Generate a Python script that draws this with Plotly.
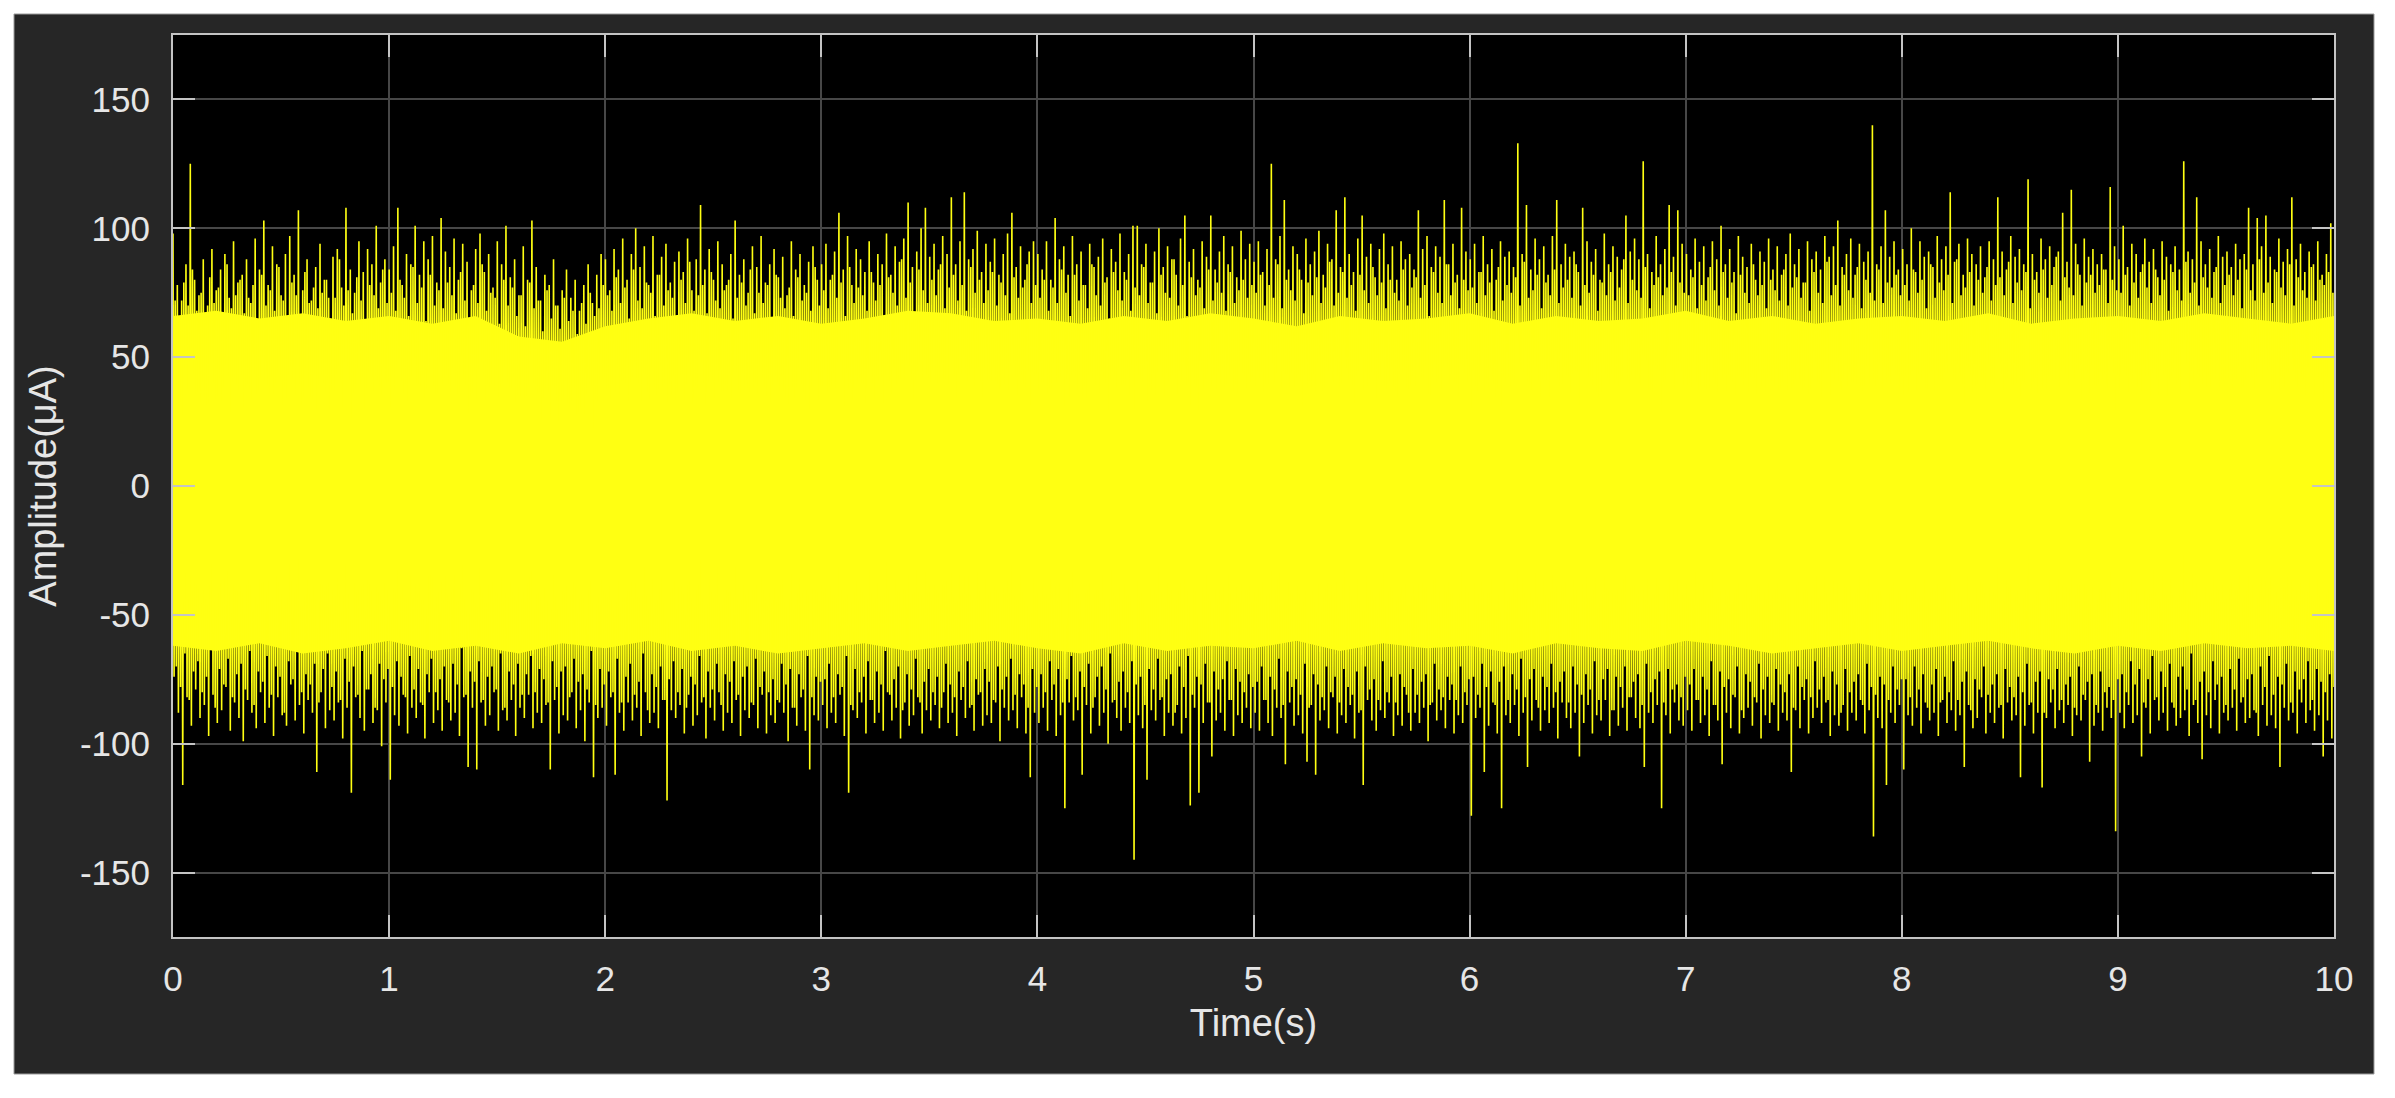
import numpy as np
import plotly.graph_objects as go

# upper peaks of the trace, one per 0.02 s (row = 1 s)
peak_hi = [
    98, 78, 72, 86, 125, 80, 74, 88, 70, 92, 76, 84, 90, 73, 95, 79, 82, 88, 71, 96, 84, 103, 78, 93, 86,
    74, 90, 97, 82, 107, 76, 88, 72, 85, 94, 80, 73, 89, 92, 77, 108, 84, 75, 95, 83, 92, 86, 101, 79, 88,
    84, 93, 108, 78, 90, 86, 101, 82, 95, 88, 97, 79, 104, 91, 85, 96, 80, 94, 87, 76, 92, 98, 83, 90, 77,
    95, 86, 101, 81, 88, 74, 93, 80, 103, 85, 72, 82, 78, 88, 70, 76, 84, 73, 80, 68, 78, 86, 71, 82, 90,
    88, 76, 92, 84, 96, 80, 90, 100, 85, 93, 78, 97, 82, 89, 94, 79, 87, 91, 83, 96, 76, 88, 109, 84, 92,
    80, 95, 86, 78, 90, 103, 82, 88, 75, 93, 85, 97, 79, 86, 92, 81, 89, 74, 95, 84, 90, 78, 87, 93, 80,
    86, 94, 80, 91, 106, 84, 97, 78, 92, 88, 83, 95, 79, 90, 86, 98, 82, 93, 87, 96, 110, 85, 91, 100, 108,
    89, 94, 84, 97, 90, 112, 86, 95, 114, 88, 92, 99, 83, 94, 87, 96, 82, 90, 98, 106, 85, 93, 80, 91, 95,
    90, 84, 95, 80, 104, 88, 93, 82, 97, 86, 91, 78, 94, 85, 89, 96, 81, 92, 87, 98, 83, 90, 101, 101, 86,
    94, 79, 91, 100, 85, 93, 88, 82, 96, 105, 87, 92, 80, 95, 89, 105, 84, 91, 97, 86, 93, 81, 99, 88, 94,
    87, 95, 83, 92, 125, 88, 97, 111, 84, 93, 90, 80, 96, 86, 91, 99, 82, 94, 88, 107, 85, 112, 90, 83, 96,
    105, 89, 94, 81, 92, 98, 86, 93, 80, 95, 88, 90, 84, 107, 92, 97, 85, 93, 89, 111, 86, 94, 82, 108, 91,
    88, 94, 83, 97, 86, 92, 80, 95, 89, 91, 85, 133, 90, 109, 84, 96, 88, 93, 82, 97, 111, 86, 94, 89, 91,
    83, 108, 95, 87, 92, 80, 98, 86, 93, 89, 84, 105, 91, 96, 88, 126, 90, 83, 97, 86, 92, 109, 89, 107, 94,
    90, 84, 96, 87, 93, 81, 95, 88, 101, 86, 92, 83, 97, 89, 85, 94, 80, 91, 87, 96, 84, 93, 82, 90, 98,
    86, 92, 79, 95, 88, 91, 84, 97, 89, 93, 103, 85, 90, 96, 82, 94, 87, 91, 140, 86, 93, 107, 89, 95, 84,
    92, 86, 100, 83, 95, 89, 91, 85, 97, 88, 93, 114, 87, 94, 82, 96, 90, 86, 93, 81, 95, 88, 112, 91, 84,
    97, 89, 92, 86, 119, 90, 83, 96, 88, 93, 85, 91, 106, 87, 115, 94, 82, 96, 89, 92, 86, 90, 84, 116, 93,
    88, 101, 85, 94, 90, 83, 96, 87, 92, 81, 95, 89, 86, 93, 84, 126, 91, 88, 112, 95, 86, 92, 83, 97, 89,
    91, 85, 94, 88, 90, 108, 86, 104, 93, 105, 89, 84, 96, 87, 92, 112, 88, 94, 83, 91, 86, 95, 82, 90, 102,
]

# lower peaks of the trace, one per 0.02 s
peak_lo = [
    -74, -88, -116, -82, -93, -79, -90, -85, -97, -81, -92, -87, -78, -95, -84, -90, -99, -83, -88, -94, -80, -92, -86, -97, -82,
    -89, -93, -77, -91, -85, -96, -83, -88, -111, -80, -94, -87, -91, -84, -98, -86, -119, -82, -90, -95, -79, -92, -87, -101, -84,
    -114, -89, -93, -81, -96, -86, -90, -84, -98, -80, -92, -87, -95, -83, -91, -88, -97, -82, -109, -86, -110, -84, -93, -89, -80,
    -95, -87, -91, -83, -97, -86, -90, -81, -94, -88, -92, -85, -110, -83, -96, -89, -91, -80, -94, -87, -99, -84, -113, -90, -86,
    -93, -82, -112, -88, -95, -84, -91, -86, -97, -80, -92, -88, -94, -83, -122, -87, -90, -85, -96, -81, -93, -89, -84, -98, -86,
    -91, -80, -95, -88, -92, -83, -97, -87, -90, -85, -94, -81, -96, -89, -92, -84, -88, -99, -86, -93, -82, -95, -110, -89, -91,
    -85, -94, -88, -92, -81, -97, -119, -87, -90, -84, -96, -83, -92, -88, -95, -80, -91, -86, -98, -84, -93, -89, -82, -96, -87,
    -91, -85, -94, -80, -92, -88, -97, -83, -90, -86, -95, -81, -93, -89, -92, -84, -99, -86, -91, -87, -94, -82, -96, -113, -88,
    -92, -86, -95, -83, -97, -89, -125, -84, -91, -87, -112, -85, -96, -82, -93, -88, -100, -84, -90, -95, -86, -92, -145, -89, -94,
    -114, -87, -91, -83, -97, -88, -93, -85, -96, -90, -124, -86, -119, -92, -84, -105, -91, -88, -95, -83, -97, -89, -92, -86, -94,
    -88, -95, -83, -92, -97, -86, -90, -108, -84, -93, -89, -96, -107, -85, -112, -91, -87, -94, -82, -96, -89, -92, -85, -98, -88,
    -116, -83, -91, -95, -87, -90, -84, -97, -89, -93, -81, -95, -88, -92, -86, -99, -84, -91, -87, -94, -83, -96, -89, -92, -85,
    -128, -90, -86, -111, -93, -84, -96, -125, -89, -92, -85, -97, -88, -109, -91, -83, -95, -87, -92, -86, -98, -84, -90, -94, -88,
    -105, -92, -85, -96, -89, -91, -83, -97, -87, -93, -86, -95, -82, -90, -94, -109, -88, -92, -85, -125, -89, -96, -84, -91, -93,
    -87, -95, -83, -92, -89, -97, -85, -91, -108, -88, -94, -82, -96, -90, -86, -93, -84, -98, -89, -92, -85, -95, -88, -91, -111,
    -87, -94, -83, -96, -90, -86, -92, -84, -97, -89, -93, -85, -95, -88, -91, -83, -96, -87, -136, -90, -94, -116, -88, -92, -85,
    -110, -89, -93, -86, -96, -84, -91, -88, -97, -83, -92, -87, -95, -89, -109, -85, -94, -90, -82, -96, -88, -92, -86, -98, -84,
    -91, -89, -113, -93, -85, -96, -88, -117, -90, -84, -94, -87, -92, -85, -97, -89, -91, -83, -107, -93, -88, -95, -86, -90, -134,
    -88, -94, -85, -92, -89, -105, -86, -96, -83, -91, -88, -95, -84, -93, -90, -87, -97, -85, -92, -106, -89, -94, -83, -96, -88,
    -91, -86, -95, -84, -92, -90, -87, -97, -85, -93, -89, -94, -109, -86, -91, -88, -96, -84, -92, -87, -95, -89, -105, -91, -98,
]

# smaller upper peaks that fall between the ones above
mid_hi = [
    72, 66, 79, 70, 84, 68, 75, 63, 81, 71, 77, 65, 86, 69, 74, 80, 67, 73, 78, 64, 82, 70, 76, 68, 85,
    72, 66, 79, 74, 62, 83, 71, 77, 69, 75, 80, 65, 73, 88, 70, 76, 67, 81, 72, 64, 78, 74, 69, 84, 71,
    75, 68, 80, 73, 66, 85, 71, 77, 64, 82, 70, 76, 69, 79, 74, 67, 83, 72, 65, 78, 71, 86, 68, 75, 73,
    63, 80, 70, 77, 66, 74, 62, 79, 69, 72, 60, 76, 65, 70, 61, 73, 64, 68, 59, 71, 63, 75, 66, 69, 78,
    74, 68, 81, 71, 77, 65, 84, 72, 69, 79, 75, 66, 82, 70, 76, 73, 64, 80, 71, 87, 68, 74, 78, 67, 83,
    72, 69, 76, 80, 65, 73, 79, 70, 84, 67, 75, 71, 78, 64, 82, 73, 69, 77, 66, 81, 72, 75, 68, 85, 70,
    76, 69, 82, 73, 79, 66, 85, 71, 77, 74, 68, 83, 72, 78, 65, 81, 75, 70, 88, 73, 79, 67, 84, 76, 71,
    80, 74, 86, 69, 77, 82, 72, 78, 68, 85, 75, 80, 71, 76, 83, 70, 79, 74, 67, 81, 73, 77, 86, 71, 78,
    73, 80, 68, 77, 71, 84, 75, 66, 82, 72, 78, 69, 86, 74, 70, 79, 65, 83, 76, 72, 80, 68, 77, 74, 85,
    71, 79, 67, 82, 75, 73, 88, 70, 78, 66, 81, 74, 77, 69, 84, 72, 79, 75, 68, 83, 71, 76, 80, 73, 78,
    75, 82, 70, 78, 73, 86, 69, 80, 76, 72, 84, 67, 79, 74, 81, 71, 77, 87, 70, 75, 83, 73, 78, 68, 82,
    76, 71, 85, 74, 79, 69, 80, 75, 72, 84, 70, 77, 81, 73, 78, 66, 83, 75, 71, 86, 74, 79, 69, 80, 76,
    77, 71, 83, 74, 79, 68, 85, 72, 78, 75, 81, 70, 87, 73, 76, 82, 69, 79, 74, 84, 71, 77, 80, 73, 86,
    70, 78, 75, 82, 68, 79, 74, 83, 72, 77, 88, 71, 80, 76, 73, 85, 69, 78, 81, 74, 77, 83, 70, 79, 75,
    74, 81, 69, 78, 72, 85, 76, 70, 83, 73, 79, 67, 82, 75, 71, 86, 74, 78, 69, 80, 76, 72, 84, 70, 77,
    81, 73, 79, 68, 83, 75, 71, 87, 74, 78, 70, 82, 76, 73, 85, 69, 80, 75, 72, 84, 71, 79, 77, 82, 74,
    78, 72, 84, 75, 80, 69, 86, 73, 79, 76, 82, 71, 88, 74, 77, 83, 70, 80, 75, 85, 72, 78, 81, 74, 87,
    71, 79, 76, 83, 69, 80, 75, 84, 73, 78, 89, 72, 81, 77, 74, 86, 70, 79, 82, 75, 78, 84, 71, 80, 76,
    75, 82, 70, 79, 73, 86, 77, 71, 84, 74, 80, 68, 83, 76, 72, 87, 75, 79, 70, 81, 77, 73, 85, 71, 78,
    82, 74, 80, 69, 84, 76, 72, 88, 75, 79, 71, 83, 77, 74, 86, 70, 81, 76, 73, 85, 72, 80, 78, 83, 75,
]

# smaller lower peaks between the ones above
mid_lo = [
    -70, -78, -65, -83, -72, -68, -80, -74, -63, -86, -71, -77, -67, -82, -73, -69, -79, -64, -85, -72, -76, -66, -81, -70, -74,
    -88, -68, -75, -62, -80, -73, -77, -69, -84, -71, -65, -78, -72, -83, -67, -76, -70, -81, -64, -79, -73, -86, -69, -75, -71,
    -78, -68, -74, -82, -66, -79, -71, -85, -73, -67, -80, -75, -70, -84, -69, -77, -63, -81, -72, -76, -68, -83, -74, -70, -79,
    -65, -86, -72, -77, -69, -81, -73, -66, -80, -71, -75, -84, -68, -78, -72, -70, -82, -67, -76, -73, -79, -64, -85, -71, -77,
    -72, -80, -67, -84, -74, -69, -81, -76, -65, -87, -73, -78, -70, -83, -75, -68, -80, -71, -86, -74, -77, -66, -82, -72, -79,
    -69, -85, -73, -76, -68, -81, -74, -70, -84, -67, -78, -72, -80, -75, -83, -69, -77, -71, -86, -73, -79, -66, -82, -74, -76,
    -75, -69, -82, -73, -78, -66, -85, -71, -80, -74, -68, -83, -72, -77, -64, -81, -75, -70, -87, -73, -79, -67, -84, -76, -71,
    -80, -74, -86, -69, -77, -82, -72, -78, -68, -85, -75, -80, -71, -76, -83, -70, -79, -74, -67, -81, -73, -77, -86, -71, -78,
    -73, -80, -68, -77, -71, -84, -75, -66, -82, -72, -78, -69, -86, -74, -70, -79, -65, -83, -76, -72, -80, -68, -77, -74, -85,
    -71, -79, -67, -82, -75, -73, -88, -70, -78, -66, -81, -74, -77, -69, -84, -72, -79, -75, -68, -83, -71, -76, -80, -73, -78,
    -76, -70, -83, -74, -79, -67, -85, -72, -78, -75, -81, -69, -86, -73, -77, -82, -70, -80, -74, -84, -71, -78, -81, -72, -87,
    -70, -79, -75, -83, -68, -80, -74, -84, -73, -78, -88, -71, -81, -76, -73, -85, -69, -79, -82, -74, -77, -83, -70, -80, -75,
    -74, -81, -69, -78, -72, -85, -76, -70, -83, -73, -79, -67, -82, -75, -71, -86, -74, -78, -69, -80, -76, -72, -84, -70, -77,
    -81, -73, -79, -68, -83, -75, -71, -87, -74, -78, -70, -82, -76, -73, -85, -69, -80, -75, -72, -84, -71, -79, -77, -82, -74,
    -77, -71, -83, -74, -79, -68, -85, -72, -78, -75, -81, -70, -87, -73, -76, -82, -69, -79, -74, -84, -71, -77, -80, -73, -86,
    -70, -78, -75, -82, -68, -79, -74, -83, -72, -77, -88, -71, -80, -76, -73, -85, -69, -78, -81, -74, -77, -83, -70, -79, -75,
    -75, -82, -70, -79, -73, -86, -77, -71, -84, -74, -80, -68, -83, -76, -72, -87, -75, -79, -70, -81, -77, -73, -85, -71, -78,
    -82, -74, -80, -69, -84, -76, -72, -88, -75, -79, -71, -83, -77, -74, -86, -70, -81, -76, -73, -85, -72, -80, -78, -83, -75,
    -73, -80, -68, -77, -71, -84, -75, -66, -82, -72, -78, -69, -86, -74, -70, -79, -65, -83, -76, -72, -80, -68, -77, -74, -85,
    -71, -79, -67, -82, -75, -73, -88, -70, -78, -66, -81, -74, -77, -69, -84, -72, -79, -75, -68, -83, -71, -76, -80, -73, -78,
]

# edge of the solid yellow band, one value per 0.2 s
core_top = [
    66, 68, 65, 67, 64, 66, 63, 66, 58, 56, 62, 65, 67, 64, 66, 63, 65, 68, 67, 64,
    65, 63, 66, 64, 67, 65, 62, 66, 64, 65, 67, 63, 66, 64, 65, 68, 64, 66, 63, 65,
    66, 64, 67, 63, 65, 66, 64, 67, 65, 63, 66,
]
core_bot = [
    -62, -64, -61, -65, -63, -60, -64, -62, -65, -61, -63, -60, -64, -62, -65, -63, -61, -64, -62, -60,
    -63, -65, -61, -64, -62, -63, -60, -64, -61, -63, -62, -65, -61, -63, -64, -60, -62, -65, -63, -61,
    -64, -62, -60, -63, -65, -62, -64, -61, -63, -62, -64,
]

duration = 10
ytick_vals = [-150, -100, -50, 0, 50, 100, 150]
ytick_text = ["-150", "-100", "-50", "0", "50", "100", "150"]

# trace order within each 0.02 s: big up, big down, small up, small down
signal = np.column_stack([peak_hi, peak_lo, mid_hi, mid_lo]).ravel()
t = np.linspace(0, duration, len(signal))

tc = np.linspace(0, duration, len(core_top))

YELLOW = "#ffff12"
TEXT = "#e6e6e6"
AXIS = "#c4c4c4"
GRID = "#474747"

fig = go.Figure()
fig.add_trace(go.Scatter(
    x=np.concatenate([tc, tc[::-1]]),
    y=np.concatenate([core_top, core_bot[::-1]]),
    fill="toself", fillcolor=YELLOW, mode="lines",
    line=dict(width=0, color=YELLOW), hoverinfo="skip"))
fig.add_trace(go.Scatter(
    x=t, y=signal, mode="lines",
    line=dict(color=YELLOW, width=1.6)))

tickfont = dict(family="Liberation Sans, Arial", size=35, color=TEXT)
titlefont = dict(family="Liberation Sans, Arial", size=38, color=TEXT)

fig.update_xaxes(
    range=[0, duration], dtick=1, tick0=0,
    showline=True, linecolor=AXIS, linewidth=2, mirror="allticks",
    ticks="inside", ticklen=22, tickwidth=2, tickcolor=AXIS,
    showgrid=True, gridcolor=GRID, gridwidth=1.5, zeroline=False,
    tickfont=tickfont, ticklabelstandoff=10,
    title=dict(text="Time(s)", font=titlefont, standoff=12))
fig.update_yaxes(
    range=[-175, 175], tickvals=ytick_vals, ticktext=ytick_text,
    showline=True, linecolor=AXIS, linewidth=2, mirror="allticks",
    ticks="inside", ticklen=22, tickwidth=2, tickcolor=AXIS,
    showgrid=True, gridcolor=GRID, gridwidth=1.5, zeroline=False,
    tickfont=tickfont, ticklabelstandoff=14,
    title=dict(text="Amplitude(μA)", font=titlefont, standoff=12))

# the page puts the figure 8 px in from the corner, so the figure is sized to fit
W, H = 2379, 1082
ml, mr, mt, mb = 165, 53, 27, 153
pw, ph = W - ml - mr, H - mt - mb

fig.update_layout(
    width=W, height=H,
    margin=dict(l=ml, r=mr, t=mt, b=mb),
    paper_bgcolor="white", plot_bgcolor="black",
    showlegend=False,
    shapes=[
        dict(type="rect", xref="paper", yref="paper", layer="below",
             x0=(6 - ml) / pw, x1=(2366 - ml) / pw,
             y0=(ph + mt - 1066) / ph, y1=(ph + mt - 6) / ph,
             fillcolor="#262626", line=dict(width=1, color="#9a9a9a")),
        dict(type="rect", xref="paper", yref="paper", layer="below",
             x0=0, x1=1, y0=0, y1=1, fillcolor="black", line=dict(width=0)),
    ],
)

fig.write_html("out.html")
